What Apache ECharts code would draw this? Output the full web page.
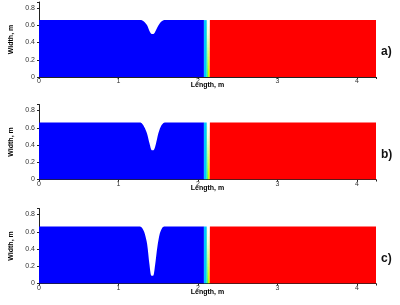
<!DOCTYPE html>
<html>
<head>
<meta charset="utf-8">
<script src="https://cdn.jsdelivr.net/npm/echarts@6/dist/echarts.min.js"></script>
<style>
  html, body { margin: 0; padding: 0; background: #fff; }
  #chart { width: 400px; height: 305px; }
</style>
</head>
<body>
<div id="chart"></div>
<script>
// channel profile: length (m) and width (m) for each case
const lengthA = [0, 1.27, 1.30, 1.33, 1.36, 1.39, 1.42, 1.44, 1.47, 1.50, 1.53, 1.56, 1.59, 2.075]
const widthA = [0.66, 0.66, 0.655, 0.635, 0.60, 0.535, 0.50, 0.50, 0.54, 0.595, 0.635, 0.655, 0.66, 0.66]
const lengthB = [0, 1.27, 1.30, 1.33, 1.36, 1.39, 1.42, 1.44, 1.47, 1.50, 1.53, 1.56, 1.59, 2.075]
const widthB = [0.66, 0.66, 0.645, 0.60, 0.53, 0.42, 0.34, 0.34, 0.41, 0.53, 0.61, 0.65, 0.66, 0.66]
const lengthC = [0, 1.27, 1.30, 1.33, 1.36, 1.39, 1.415, 1.435, 1.46, 1.49, 1.52, 1.55, 1.58, 2.075]
const widthC = [0.66, 0.66, 0.64, 0.58, 0.46, 0.22, 0.09, 0.09, 0.21, 0.43, 0.58, 0.645, 0.66, 0.66]

// colour bands after the blue part (start, end)
const bandEdges = [2.075, 2.11, 2.125, 2.14, 2.15]
const bandColors = ['#00c8ff', '#20ff60', '#c8ff00', '#ffb000']
const redStart = 2.15
const channelEnd = 4.24
const channelWidth = 0.66

const panelLabels = ['a)', 'b)', 'c)']
const xTicks = [0, 1, 2, 3, 4]
const yTicks = [0, 0.2, 0.4, 0.6, 0.8]

const profiles = [[lengthA, widthA], [lengthB, widthB], [lengthC, widthC]]
const gridTops = [2, 104.5, 208.5]

const chart = echarts.init(document.getElementById('chart'))

const grids = []
const xAxes = []
const yAxes = []
const series = []
const graphics = []

const areaSeries = (idx, data, color) => ({
  type: 'line',
  xAxisIndex: idx,
  yAxisIndex: idx,
  data: data,
  showSymbol: false,
  silent: true,
  lineStyle: { width: 0 },
  areaStyle: { color: color, opacity: 1 },
  animation: false
})

profiles.forEach((p, i) => {
  grids.push({ left: 36, right: 24, top: gridTops[i], height: 75 })
  xAxes.push({
    type: 'value',
    gridIndex: i,
    min: 0,
    max: channelEnd,
    interval: 1,
    name: 'Length, m',
    nameLocation: 'middle',
    nameGap: 5,
    nameMoveOverlap: false,
    nameTextStyle: { fontFamily: 'Liberation Sans', fontSize: 7, fontWeight: 'bold', color: '#000' },
    splitLine: { show: false },
    axisLine: { lineStyle: { color: '#222', width: 1 } },
    axisTick: { length: 2, lineStyle: { color: '#222' } },
    axisLabel: {
      fontFamily: 'Liberation Sans', fontSize: 7, color: '#333', margin: 1,
      formatter: v => (xTicks.indexOf(v) >= 0 ? String(v) : '')
    }
  })
  yAxes.push({
    type: 'value',
    gridIndex: i,
    min: 0,
    max: 0.87,
    interval: 0.2,
    name: 'Width, m',
    nameLocation: 'middle',
    nameGap: 24,
    nameMoveOverlap: false,
    nameTextStyle: { fontFamily: 'Liberation Sans', fontSize: 7, fontWeight: 'bold', color: '#000' },
    splitLine: { show: false },
    axisLine: { show: true, lineStyle: { color: '#222', width: 1 } },
    axisTick: { show: true, length: 2, lineStyle: { color: '#222' } },
    axisLabel: {
      fontFamily: 'Liberation Sans', fontSize: 7, color: '#333', margin: 4,
      formatter: v => (yTicks.some(t => Math.abs(t - v) < 1e-6) ? (v === 0 ? '0' : v.toFixed(1)) : '')
    }
  })

  const pts = p[0].map((x, k) => [x, p[1][k]])
  series.push(Object.assign(areaSeries(i, pts, '#0000ff'), { smooth: 0.3 }))
  bandColors.forEach((c, k) => {
    series.push(areaSeries(i, [[bandEdges[k], channelWidth], [bandEdges[k + 1], channelWidth]], c))
  })
  series.push(areaSeries(i, [[redStart, channelWidth], [channelEnd, channelWidth]], '#ff0000'))

  graphics.push({
    type: 'text',
    left: 381,
    top: gridTops[i] + 44,
    style: { text: panelLabels[i], font: 'bold 12px "Liberation Sans"', fill: '#111' }
  })
})

chart.setOption({
  backgroundColor: '#fff',
  animation: false,
  grid: grids,
  xAxis: xAxes,
  yAxis: yAxes,
  series: series,
  graphic: graphics
})
</script>
</body>
</html>
